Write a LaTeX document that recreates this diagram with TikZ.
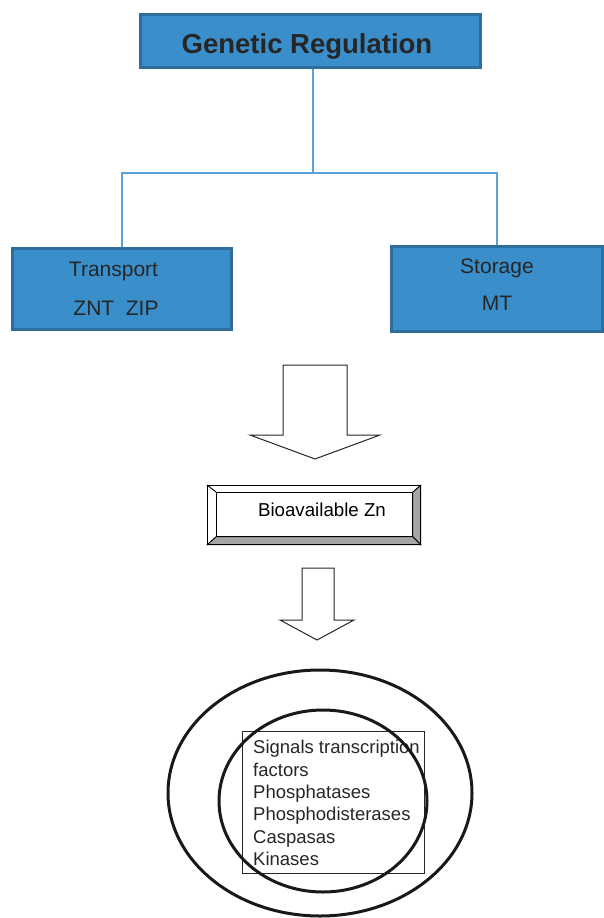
\documentclass[tikz,border=0pt]{standalone}
\usepackage{fontspec}
\setmainfont{Liberation Sans}
\usepackage{tikz}
\usetikzlibrary{calc,positioning}
\definecolor{boxblue}{HTML}{3A8FCB}
\definecolor{edgeblue}{HTML}{2F6E9C}
\definecolor{lineblue}{HTML}{5AA2DA}
\definecolor{bevelgray}{HTML}{A6A6A6}

\begin{document}
\begin{tikzpicture}[x=1pt,y=-1pt,
    bluebox/.style={draw=edgeblue,fill=boxblue,line width=3pt,text=black!85,align=center},
    link/.style={draw=lineblue,line width=1.3pt},
    blockarrow/.style={draw=black!85,line width=1pt,fill=white}]
        \useasboundingbox(0,0)rectangle(603,918);
        \node[bluebox,minimum width=340pt,minimum height=53pt,font=\fontsize{27.5}{30}\bfseries\selectfont](gen)at(310.5,41){\raisebox{-12pt}[0pt][0pt]{\hspace*{-7pt}Genetic Regulation}};
        \node[bluebox,minimum width=219pt,minimum height=81pt,font=\fontsize{21}{24}\selectfont](trans)at(122,289){\hspace*{-17pt}Transport\\[15pt]\hspace*{-12pt}ZNT\ \ ZIP};
        \node[bluebox,minimum width=211pt,minimum height=85pt,font=\fontsize{21}{24}\selectfont](stor)at(497,289){\raisebox{-3pt}[0pt][0pt]{Storage}\\[13pt]\raisebox{-3pt}[0pt][0pt]{MT}};
        \coordinate(split)at(313,173);
        \draw[link](gen.south-|split)--(split);
        \draw[link](split)-|(trans.north);
        \draw[link](split)-|(stor.north);
        \draw[blockarrow](283,365)--(347,365)--(347,435)--(380,435)--(315,459)--(250,435)--(283,435)--cycle;
        \node[draw=black!85,line width=1.2pt,minimum width=212pt,minimum height=58pt,font=\fontsize{18.7}{22}\selectfont](bio)at(314,515){\raisebox{-1pt}[0pt][0pt]{\hspace*{16pt}Bioavailable Zn}};
        \coordinate(bnw)at($(bio.north west)+(9,7)$);
        \coordinate(bne)at($(bio.north east)+(-8,7)$);
        \coordinate(bse)at($(bio.south east)+(-8,-8)$);
        \coordinate(bsw)at($(bio.south west)+(9,-8)$);
        \draw[fill=white,line width=.8pt](bio.north west)--(bio.north east)--(bne)--(bnw)--cycle;
        \draw[fill=white,line width=.8pt](bio.north west)--(bnw)--(bsw)--(bio.south west)--cycle;
        \draw[fill=bevelgray,line width=.8pt](bio.north east)--(bio.south east)--(bse)--(bne)--cycle;
        \draw[fill=bevelgray,line width=.8pt](bio.south west)--(bsw)--(bse)--(bio.south east)--cycle;
        \draw[line width=1.2pt](bio.north west)rectangle(bio.south east);
        \draw[blockarrow](302,568)--(334,568)--(334,620)--(354,620)--(317,640)--(280,620)--(302,620)--cycle;
        \node[draw=black!85,line width=1pt,minimum width=182pt,minimum height=142pt](sig)at(333,802){};
        \node[anchor=west,align=left,inner sep=0pt,text=black!85,font=\fontsize{18.5}{22.4}\selectfont](siglist)at(253,803){Signals transcription\\factors\\Phosphatases\\Phosphodisterases\\Caspasas\\Kinases};
        \draw[line width=3pt,black!90](320,793)ellipse[x radius=152pt,y radius=123pt];
        \draw[line width=3pt,black!90](323,801)ellipse[x radius=104pt,y radius=91pt];
    \end{tikzpicture}
\end{document}
